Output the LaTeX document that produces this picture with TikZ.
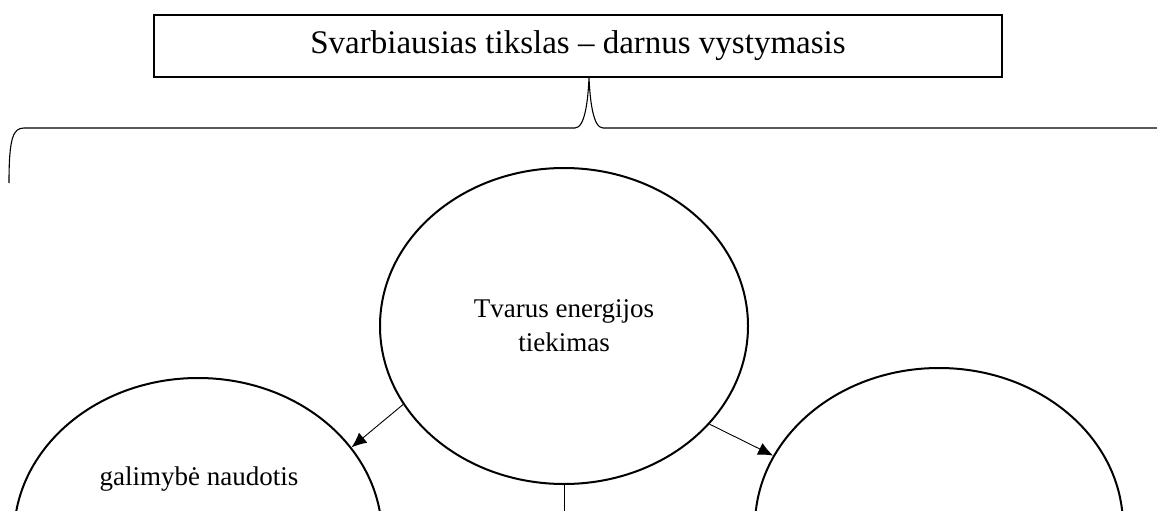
\documentclass[tikz,border=0pt]{standalone}
\usepackage{fontspec}
\setmainfont{Liberation Serif}
\usetikzlibrary{shapes.geometric,arrows.meta}

\begin{document}
\begin{tikzpicture}[x=1pt, y=-1pt,
    oval/.style={ellipse,draw,line width=2pt,minimum width=368pt,minimum height=316pt,inner sep=0pt,
                 font=\fontsize{27}{34}\selectfont,align=center},
    link/.style={-{Latex[length=15pt,width=13pt]}, line width=0.9pt}]
    \useasboundingbox (0,0) rectangle (1157,511) ;
    \clip (0,0) rectangle (1157,511) ;

    \node[rectangle,draw,line width=1.8pt,minimum width=848pt,minimum height=62pt,
          font=\fontsize{33}{38}\selectfont] (goal) at (578,46) {Svarbiausias tikslas -- darnus vystymasis} ;

    \node[oval] (supply) at (564,326) {Tvarus energijos\\tiekimas} ;

    \node[oval] (access) at (198,536) {} ;
    \node[font=\fontsize{27}{31}\selectfont] (access_text) at (199,479) {galimybė naudotis} ;

    \node[oval] (econ) at (939,526) {} ;

    \coordinate (down_end) at (564,530) ;

    % brace under the goal box
    \draw[line width=1.1pt] (9,183) .. controls (9,138) and (13,128) .. (24,128) -- (575,128)
        .. controls (585,128) and (588,100) .. (goal.south -| 589,0)
        .. controls (590,100) and (593,128) .. (603,128) -- (1160,128) ;

    \draw[link] (supply.206) -- (access.30) ;
    \draw[link] (supply.326) -- (econ.157) ;
    \draw[line width=0.9pt] (supply.south) -- (down_end) ;
\end{tikzpicture}
\end{document}
